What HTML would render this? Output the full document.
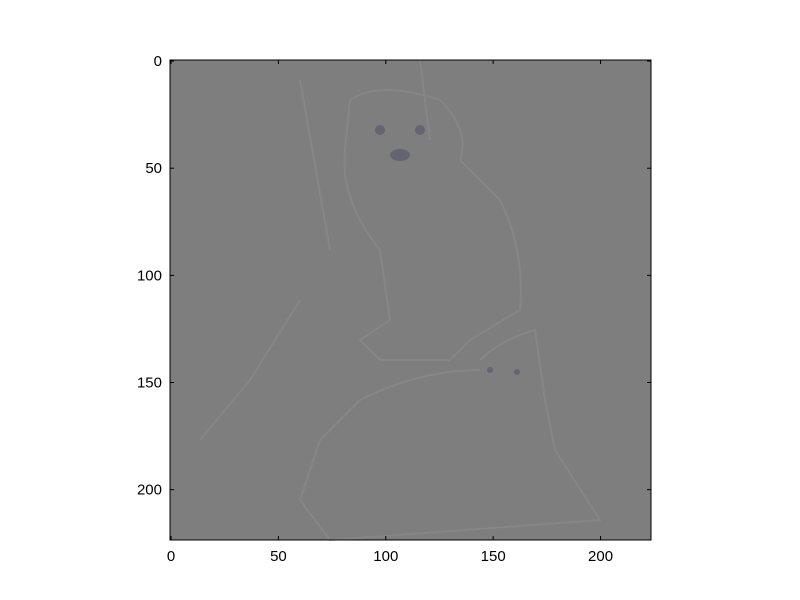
<!DOCTYPE html>
<html><head><meta charset="utf-8"><style>
body{margin:0;background:#fff;}
svg{display:block;font-family:"Liberation Sans","DejaVu Sans",sans-serif;}
</style></head><body>
<svg id="chart" width="800" height="600" viewBox="0 0 800 600">
<rect x="0" y="0" width="800" height="600" fill="#fff"/>
<g id="img">
<rect x="170" y="60" width="481" height="480" fill="#7e7e7e"/>
<g fill="none" stroke="#8e8e8e" stroke-width="2" opacity="0.5">
<path d="M350 100 Q380 80 440 100 Q470 130 460 160 L500 200 Q525 250 520 310 L470 340 L450 360 L380 360 L360 340 L390 320 L380 250 Q340 200 345 150 Z"/>
<path d="M480 360 Q500 340 535 330 L545 400 L555 450 L600 520 L330 540 L300 500 L320 440 L360 400 Q420 370 480 370"/>
<path d="M300 80 L330 250 M420 60 L430 140 M200 440 L250 380 L300 300"/>
</g>
<g fill="#5a5a6e" opacity="0.7">
<circle cx="380" cy="130" r="5"/><circle cx="420" cy="130" r="5"/><ellipse cx="400" cy="155" rx="10" ry="6"/>
<circle cx="490" cy="370" r="3"/><circle cx="517" cy="372" r="3"/>
</g>
</g>
<g id="axes"></g>
<rect x="170" y="60" width="481" height="480" fill="none" stroke="#000" stroke-width="1"/>
</svg>
<script>
const xTicks=[0,50,100,150,200];
const yTicks=[0,50,100,150,200];
const imgW=224, imgH=224;
const L=170,R=651,T=60,B=540;
const sx=v=>L+(v+0.5)*(R-L)/imgW;
const sy=v=>T+(v+0.5)*(B-T)/imgH;
const g=document.getElementById('axes');
const NS='http://www.w3.org/2000/svg';
function mk(tag,attrs){const e=document.createElementNS(NS,tag);for(const k in attrs)e.setAttribute(k,attrs[k]);g.appendChild(e);return e;}
xTicks.forEach(v=>{
  const x=sx(v);
  let t=mk('line',{x1:x,x2:x,y1:B,y2:B-4,stroke:'#000'});
  
  
  let t2=mk('line',{x1:x,x2:x,y1:T,y2:T+4,stroke:'#000'});
  
  
  let l=mk('text',{x:x,y:B+21,'text-anchor':'middle','font-size':'15'});
  l.textContent=v;
  
  
});
yTicks.forEach(v=>{
  const y=sy(v);
  let t=mk('line',{x1:L,x2:L+4,y1:y,y2:y,stroke:'#000'});
  
  
  let t2=mk('line',{x1:R,x2:R-4,y1:y,y2:y,stroke:'#000'});
  
  
  let l=mk('text',{x:L-8,y:y+5,'text-anchor':'end','font-size':'15'});
  l.textContent=v;
  
  
});
</script>
</body></html>
